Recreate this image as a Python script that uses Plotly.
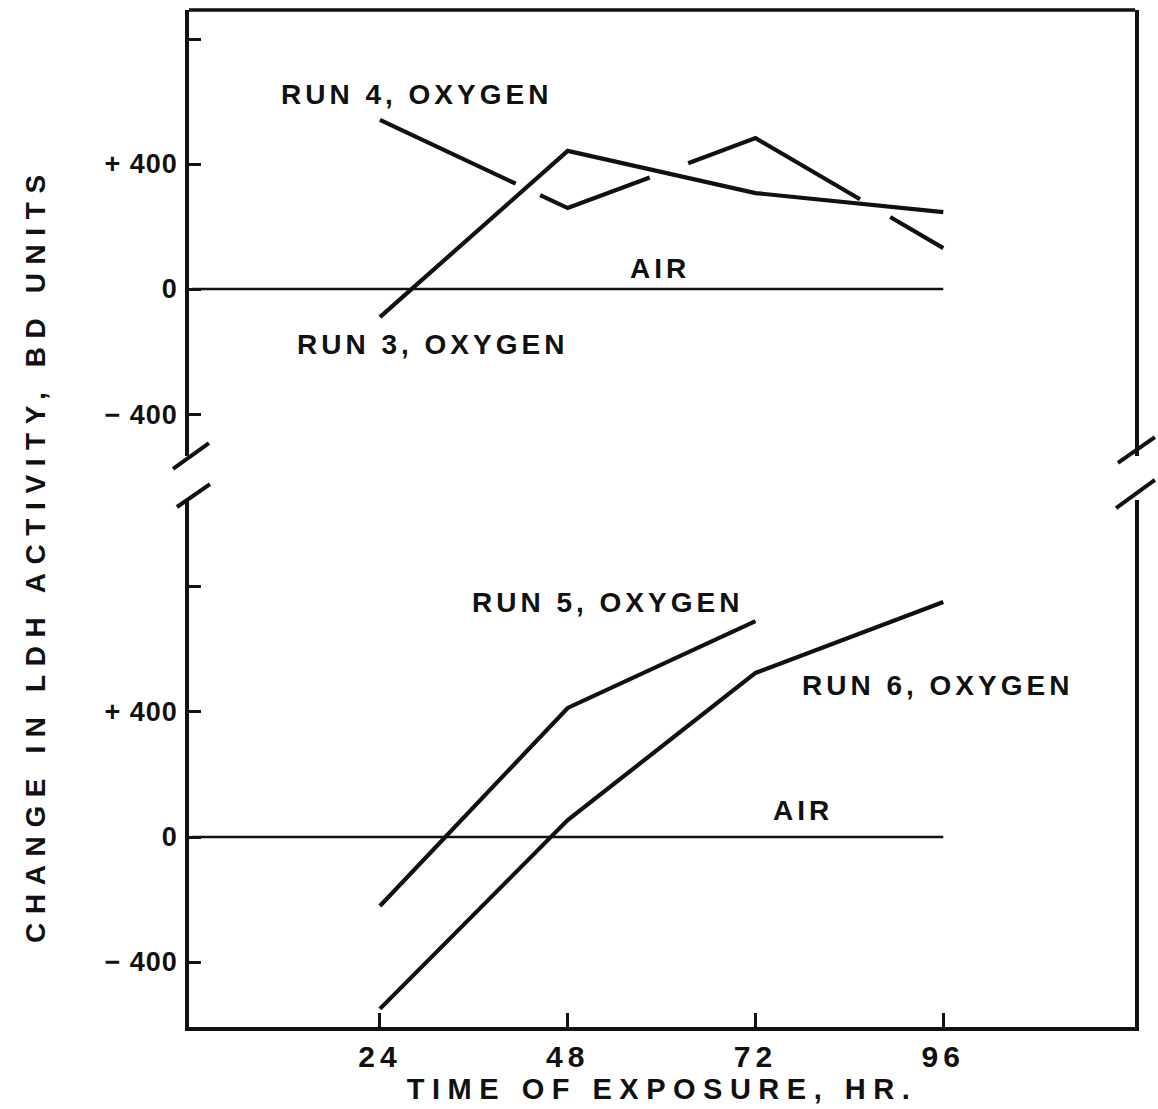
import plotly.graph_objects as go

# ---- data ----
hours = [24, 48, 72, 96]
air_hours = [0, 96]
air_change = [0, 0]

run3_change = [-90, 442, 307, 246]     # top panel
run4_change = [541, 259, 483, 131]     # top panel
run5_hours = [24, 48, 72]
run5_change = [-221, 413, 691]         # bottom panel
run6_change = [-550, 54, 525, 752]     # bottom panel

y_tick_vals = [-400, 0, 400, 800]
y_tick_text = ["\u2212 400", "0", "+ 400", ""]
x_tick_vals = [24, 48, 72, 96]
x_tick_text = ["24", "48", "72", "96"]

FONT = "Liberation Sans"
INK = "#111111"

def spaced(t, ls):
    return f'<span style="letter-spacing:{ls}px">{t}</span>'

fig = go.Figure()

line_kw = dict(color=INK, width=4.2)
fig.add_trace(go.Scatter(x=air_hours, y=air_change, mode="lines",
                         line=dict(color=INK, width=2.5), xaxis="x", yaxis="y2"))
fig.add_trace(go.Scatter(x=hours, y=run3_change, mode="lines",
                         line=line_kw, xaxis="x", yaxis="y2"))
fig.add_trace(go.Scatter(x=hours, y=run4_change, mode="lines",
                         line=dict(color=INK, width=4.2,
                                   dash="150px,27px,118px,41px,193px,35px,200px"),
                         xaxis="x", yaxis="y2"))
fig.add_trace(go.Scatter(x=air_hours, y=air_change, mode="lines",
                         line=dict(color=INK, width=2.5), xaxis="x", yaxis="y"))
fig.add_trace(go.Scatter(x=run5_hours, y=run5_change, mode="lines",
                         line=line_kw, xaxis="x", yaxis="y"))
fig.add_trace(go.Scatter(x=hours, y=run6_change, mode="lines",
                         line=line_kw, xaxis="x", yaxis="y"))

yaxis_common = dict(
    tickmode="array", tickvals=y_tick_vals,
    ticktext=[spaced(t, 1) for t in y_tick_text],
    ticks="inside", ticklen=12, tickwidth=3, tickcolor=INK,
    showline=True, linecolor=INK, linewidth=3.5, mirror=True,
    showgrid=False, zeroline=False, automargin=False,
    tickfont=dict(family=FONT, size=27, color=INK, weight="bold"),
    ticklabelstandoff=2,
)

fig.update_layout(
    width=1158, height=1109,
    margin=dict(l=189, r=23, t=10, b=82, autoexpand=False),
    paper_bgcolor="white", plot_bgcolor="white",
    showlegend=False,
    xaxis=dict(range=[-0.4, 120.5], anchor="y", automargin=False,
               tickmode="array", tickvals=x_tick_vals,
               ticktext=[spaced(t, 5) for t in x_tick_text],
               ticks="inside", ticklen=14, tickwidth=3, tickcolor=INK,
               showline=True, linecolor=INK, linewidth=3.5,
               showgrid=False, zeroline=False,
               tickfont=dict(family=FONT, size=30, color=INK, weight="bold"),
               title=dict(text=spaced("TIME OF EXPOSURE, HR.", 7.5),
                          font=dict(family=FONT, size=29, color=INK, weight="bold"),
                          standoff=2)),
    yaxis=dict(domain=[0, 0.5182], range=[-608, 1078.4], anchor="x", **yaxis_common),
    yaxis2=dict(domain=[0.5614, 1.0], range=[-534.4, 892.8], anchor="x", **yaxis_common),
)

# top border of frame
fig.add_shape(type="line", xref="x domain", yref="y2 domain", x0=0, x1=1, y0=1, y1=1,
              line=dict(color=INK, width=3.5))
# axis-break slashes
for (x0, y0, x1, y1) in [(-0.0169, 0.5487, 0.0211, 0.5742),
                         (-0.0127, 0.5113, 0.0222, 0.5339),
                         (0.982, 0.5546, 1.021, 0.5801),
                         (0.980, 0.5103, 1.021, 0.5379)]:
    fig.add_shape(type="line", xref="paper", yref="paper", x0=x0, y0=y0, x1=x1, y1=y1,
                  line=dict(color=INK, width=4))

lab_font = dict(family=FONT, size=28, color=INK, weight="bold")
labels = [
    ("RUN 4, OXYGEN", 28.7, 621, "y2"),
    ("AIR", 59.8, 67, "y2"),
    ("RUN 3, OXYGEN", 30.7, -179, "y2"),
    ("RUN 5, OXYGEN", 53.1, 749, "y"),
    ("RUN 6, OXYGEN", 95.2, 486, "y"),
    ("AIR", 78.1, 86, "y"),
]
for text, x, y, yr in labels:
    fig.add_annotation(x=x, y=y, xref="x", yref=yr, text=spaced(text, 4),
                       showarrow=False, font=lab_font, xanchor="center", yanchor="middle")

fig.add_annotation(x=-0.163, y=0.465, xref="paper", yref="paper",
                   text=spaced("CHANGE IN LDH ACTIVITY, BD UNITS", 8.6),
                   textangle=-90, showarrow=False,
                   font=dict(family=FONT, size=28, color=INK, weight="bold"),
                   xanchor="center", yanchor="middle")

fig.write_html("out.html")
